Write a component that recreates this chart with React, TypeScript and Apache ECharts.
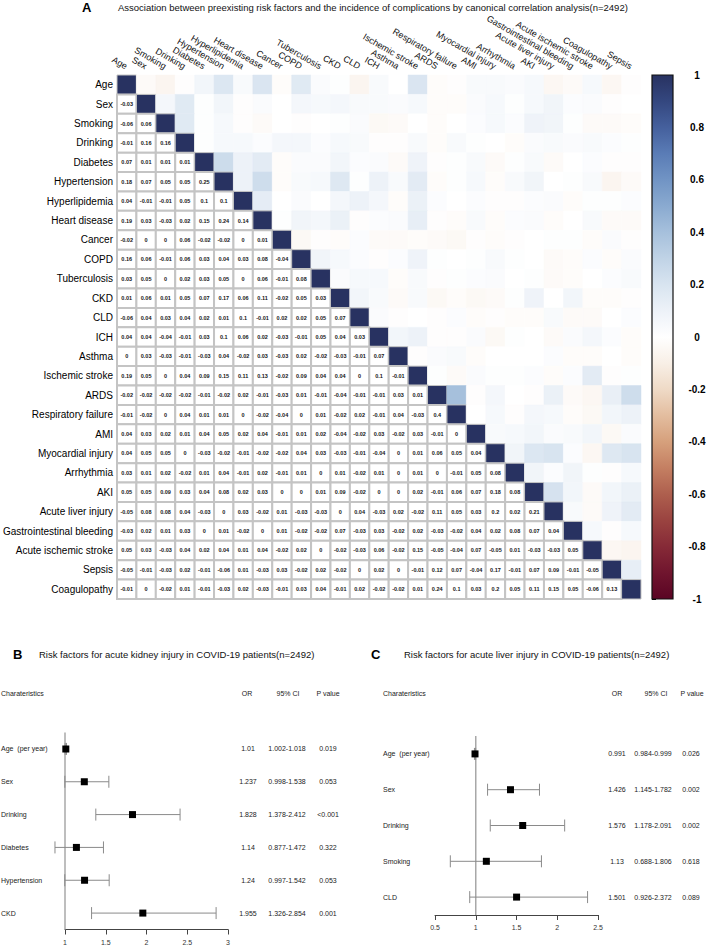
import React, { useEffect, useRef } from 'react';
import * as echarts from 'echarts';

const FONT = 'Liberation Sans, Arial, Helvetica, sans-serif';

// ---------- Panel A data ----------
const rowLabels = ['Age', 'Sex', 'Smoking', 'Drinking', 'Diabetes', 'Hypertension', 'Hyperlipidemia', 'Heart disease', 'Cancer', 'COPD', 'Tuberculosis', 'CKD', 'CLD', 'ICH', 'Asthma', 'Ischemic stroke', 'ARDS', 'Respiratory failure', 'AMI', 'Myocardial injury', 'Arrhythmia', 'AKI', 'Acute liver injury', 'Gastrointestinal bleeding', 'Acute ischemic stroke', 'Sepsis', 'Coagulopathy'];
const columnLabels = ['Age', 'Sex', 'Smoking', 'Drinking', 'Diabetes', 'Hypertension', 'Hyperlipidemia', 'Heart disease', 'Cancer', 'COPD', 'Tuberculosis', 'CKD', 'CLD', 'ICH', 'Asthma', 'Ischemic stroke', 'ARDS', 'Respiratory failure', 'AMI', 'Myocardial injury', 'Arrhythmia', 'AKI', 'Acute liver injury', 'Gastrointestinal bleeding', 'Acute ischemic stroke', 'Coagulopathy', 'Sepsis'];

// lower triangle correlations, row i has i values (columns 0..i-1)
const corrLower: number[][] = [
  [],
  [-0.03],
  [-0.06, 0.06],
  [-0.01, 0.16, 0.16],
  [0.07, 0.01, 0.01, 0.01],
  [0.18, 0.07, 0.05, 0.05, 0.25],
  [0.04, -0.01, -0.01, 0.05, 0.1, 0.1],
  [0.19, 0.03, -0.03, 0.02, 0.15, 0.24, 0.14],
  [-0.02, 0, 0, 0.06, -0.02, -0.02, 0, 0.01],
  [0.16, 0.06, -0.01, 0.06, 0.03, 0.04, 0.03, 0.08, -0.04],
  [0.03, 0.05, 0, 0.02, 0.03, 0.05, 0, 0.06, -0.01, 0.08],
  [0.01, 0.06, 0.01, 0.05, 0.07, 0.17, 0.06, 0.11, -0.02, 0.05, 0.03],
  [-0.06, 0.04, 0.03, 0.04, 0.02, 0.01, 0.1, -0.01, 0.02, 0.02, 0.05, 0.07],
  [0.04, 0.04, -0.04, -0.01, 0.03, 0.1, 0.06, 0.02, -0.03, -0.01, 0.05, 0.04, 0.03],
  [0, 0.03, -0.03, -0.01, -0.03, 0.04, -0.02, 0.03, -0.03, 0.02, -0.02, -0.03, -0.01, 0.07],
  [0.19, 0.05, 0, 0.04, 0.09, 0.15, 0.11, 0.13, -0.02, 0.09, 0.04, 0.04, 0, 0.1, -0.01],
  [-0.02, -0.02, -0.02, -0.02, -0.01, -0.02, 0.02, -0.01, -0.03, 0.01, -0.01, -0.04, -0.01, -0.01, 0.03, 0.01],
  [-0.01, -0.02, 0, 0.04, 0.01, 0.01, 0, -0.02, -0.04, 0, 0.01, -0.02, 0.02, -0.01, 0.04, -0.03, 0.4],
  [0.04, 0.03, 0.02, 0.01, 0.04, 0.05, 0.02, 0.04, -0.01, 0.01, 0.02, -0.04, -0.02, 0.03, -0.02, 0.03, -0.01, 0],
  [0.04, 0.05, 0.05, 0, -0.03, -0.02, -0.01, -0.02, -0.02, 0.04, 0.03, -0.03, -0.01, -0.04, 0, 0.01, 0.06, 0.05, 0.04],
  [0.03, 0.01, 0.02, -0.02, 0.01, 0.04, -0.01, 0.02, -0.01, 0.01, 0, 0.01, -0.02, 0.01, 0, 0.01, 0, -0.01, 0.05, 0.08],
  [0.05, 0.05, 0.09, 0.03, 0.04, 0.08, 0.02, 0.03, 0, 0, 0.01, 0.09, -0.02, 0, 0, 0.02, -0.01, 0.06, 0.07, 0.18, 0.08],
  [-0.05, 0.08, 0.08, 0.04, -0.03, 0, 0.03, -0.02, 0.01, -0.03, -0.03, 0, 0.04, -0.03, 0.02, -0.02, 0.11, 0.05, 0.03, 0.2, 0.02, 0.21],
  [-0.03, 0.02, 0.01, 0.03, 0, 0.01, -0.02, 0, 0.01, -0.02, -0.02, 0.07, -0.03, 0.03, -0.02, 0.02, -0.03, -0.02, 0.04, 0.02, 0.08, 0.07, 0.04],
  [0.05, 0.03, -0.03, 0.04, 0.02, 0.04, 0.01, 0.04, -0.02, 0.02, 0, -0.02, -0.03, 0.06, -0.02, 0.15, -0.05, -0.04, 0.07, -0.05, 0.01, -0.03, -0.03, 0.05],
  [-0.05, -0.01, -0.03, 0.02, -0.01, -0.06, 0.01, -0.03, 0.03, -0.02, 0.02, -0.02, 0, 0.02, 0, -0.01, 0.12, 0.07, -0.04, 0.17, -0.01, 0.07, 0.09, -0.01, -0.05],
  [-0.01, 0, -0.02, 0.01, -0.01, -0.03, 0.02, -0.03, -0.01, 0.03, 0.04, -0.01, 0.02, -0.02, -0.02, 0.01, 0.24, 0.1, 0.03, 0.2, 0.05, 0.11, 0.15, 0.05, -0.06, 0.13],
];
const colorbarTicks = [-1, -0.8, -0.6, -0.4, -0.2, 0, 0.2, 0.4, 0.6, 0.8, 1];

// ---------- Panel B data ----------
const akiFactors = ['Age  (per year)', 'Sex', 'Drinking', 'Diabetes', 'Hypertension', 'CKD'];
const akiOR = [1.01, 1.237, 1.828, 1.14, 1.24, 1.955];
const akiLow = [1.002, 0.998, 1.378, 0.877, 0.997, 1.326];
const akiHigh = [1.018, 1.538, 2.412, 1.472, 1.542, 2.854];
const akiP = ['0.019', '0.053', '<0.001', '0.322', '0.053', '0.001'];

// ---------- Panel C data ----------
const aliFactors = ['Age  (per year)', 'Sex', 'Drinking', 'Smoking', 'CLD'];
const aliOR = [0.991, 1.426, 1.576, 1.13, 1.501];
const aliLow = [0.984, 1.145, 1.178, 0.688, 0.926];
const aliHigh = [0.999, 1.782, 2.091, 1.806, 2.372];
const aliP = ['0.026', '0.002', '0.002', '0.618', '0.089'];

// ---------- colour scale ----------
const colorStops: [number, string][] = [
  [-1, '#5a0424'], [-0.9, '#70152e'], [-0.8, '#862a37'], [-0.7, '#9a4340'], [-0.6, '#ae5f4e'],
  [-0.5, '#c47f62'], [-0.4, '#d6a07c'], [-0.3, '#e3bd9f'], [-0.2, '#efdac6'], [-0.1, '#f8efe6'],
  [0, '#ffffff'], [0.1, '#edf2f8'], [0.2, '#d8e4f0'], [0.3, '#c0d3e6'], [0.4, '#a6c0dc'],
  [0.5, '#8aaad0'], [0.6, '#7194c4'], [0.7, '#5a7cb6'], [0.8, '#45609d'], [0.9, '#34477f'], [1, '#283261'],
];
function hexToRgb(h: string) {
  return [parseInt(h.slice(1, 3), 16), parseInt(h.slice(3, 5), 16), parseInt(h.slice(5, 7), 16)];
}
function colorFor(v: number) {
  for (let k = 0; k < colorStops.length - 1; k++) {
    const [a, ca] = colorStops[k];
    const [b, cb] = colorStops[k + 1];
    if (v >= a && v <= b) {
      const t = (v - a) / (b - a);
      const A = hexToRgb(ca), B = hexToRgb(cb);
      const c = A.map((x, i) => Math.round(x + (B[i] - x) * t));
      return `rgb(${c[0]},${c[1]},${c[2]})`;
    }
  }
  return v > 0 ? colorStops[colorStops.length - 1][1] : colorStops[0][1];
}

const matrixData: number[][] = [];
for (let i = 0; i < rowLabels.length; i++) {
  for (let j = 0; j < rowLabels.length; j++) {
    if (j < i) matrixData.push([j, i, corrLower[i][j], 0]);
    else if (j === i) matrixData.push([j, i, 1, 1]);
    else matrixData.push([j, i, corrLower[j][i], 2]);
  }
}

function txt(text: string, x: number, y: number, size: number, align = 'left', weight = 'normal', color = '#1a1a1a') {
  return {
    type: 'text', x, y,
    style: { text, fontSize: size, fontFamily: FONT, fontWeight: weight, fill: color, align, verticalAlign: 'middle', textAlign: align, textVerticalAlign: 'middle' },
  };
}

function forestSeries(axisIdx: number, ors: number[], lows: number[], highs: number[], ps: string[], cols: number[]) {
  return {
    type: 'custom', xAxisIndex: axisIdx, yAxisIndex: axisIdx, clip: false, silent: true,
    data: ors.map((o, i) => [o, i, lows[i], highs[i]]),
    renderItem: (params: any, api: any) => {
      const i = api.value(1);
      const c = api.coord([api.value(0), i]);
      const l = api.coord([api.value(2), i]);
      const h = api.coord([api.value(3), i]);
      const cs = params.coordSys;
      const children: any[] = [];
      if (params.dataIndex === 0) {
        const r = api.coord([1, i]);
        children.push({ type: 'line', shape: { x1: r[0], y1: cs.y, x2: r[0], y2: cs.y + cs.height }, style: { stroke: '#a8a8a8', lineWidth: 1.5 } });
      }
      const grey = { stroke: '#8a8a8a', lineWidth: 1 };
      children.push({ type: 'line', shape: { x1: l[0], y1: c[1], x2: h[0], y2: c[1] }, style: grey });
      children.push({ type: 'line', shape: { x1: l[0], y1: c[1] - 6, x2: l[0], y2: c[1] + 6 }, style: grey });
      children.push({ type: 'line', shape: { x1: h[0], y1: c[1] - 6, x2: h[0], y2: c[1] + 6 }, style: grey });
      children.push({ type: 'rect', shape: { x: c[0] - 3.5, y: c[1] - 3.5, width: 7, height: 7 }, style: { fill: '#000' } });
      const d = params.dataIndex;
      children.push(txt(String(ors[d]), cols[0], c[1], 7, 'center', 'normal', '#222'));
      children.push(txt(lows[d].toFixed(3) + '-' + highs[d].toFixed(3), cols[1], c[1], 7, 'center', 'normal', '#222'));
      children.push(txt(ps[d], cols[2], c[1], 7, 'center', 'normal', '#222'));
      return { type: 'group', children };
    },
  };
}

function buildOption() {
  const noAxis = { axisLine: { show: false }, axisTick: { show: false }, splitLine: { show: false } };
  const forestX = (gridIndex: number, min: number, max: number) => ({
    gridIndex, type: 'value', min, max, interval: 0.5,
    axisLine: { show: true, lineStyle: { color: '#444', width: 1 } },
    axisTick: { show: true, length: 5, lineStyle: { color: '#444', width: 1 } },
    axisLabel: { fontSize: 7, color: '#333', margin: 9, fontFamily: FONT },
    splitLine: { show: false },
  });
  const forestY = (gridIndex: number, data: string[], margin: number) => ({
    gridIndex, type: 'category', data, inverse: true, ...noAxis,
    axisLabel: { interval: 0, align: 'left', margin, fontSize: 7, color: '#222', fontFamily: FONT },
  });
  return {
    animation: false,
    backgroundColor: '#ffffff',
    textStyle: { fontFamily: FONT },
    grid: [
      { left: 117, top: 75, width: 524, height: 524, outerBoundsMode: 'none' },
      { left: 652, top: 75, width: 21, height: 524, outerBoundsMode: 'none' },
      { left: 65, top: 732.5, width: 163, height: 197, outerBoundsMode: 'none' },
      { left: 435, top: 736, width: 163, height: 179, outerBoundsMode: 'none' },
    ],
    xAxis: [
      {
        gridIndex: 0, type: 'category', data: columnLabels, position: 'top', ...noAxis,
        axisLabel: { interval: 0, rotate: 30, fontSize: 9, color: '#111', margin: 8, fontFamily: FONT },
      },
      { gridIndex: 1, type: 'value', min: 0, max: 1, show: false },
      forestX(2, 1, 3),
      forestX(3, 0.5, 2.5),
    ],
    yAxis: [
      {
        gridIndex: 0, type: 'category', data: rowLabels, inverse: true, ...noAxis,
        axisLabel: { interval: 0, fontSize: 10, color: '#000', margin: 4, fontFamily: FONT },
      },
      {
        gridIndex: 1, type: 'value', min: -1, max: 1, interval: 0.2, position: 'right',
        axisLine: { show: false }, splitLine: { show: false },
        axisTick: { show: true, length: 4, lineStyle: { color: '#000', width: 1 } },
        axisLabel: {
          fontSize: 10, fontWeight: 'bold', color: '#000', align: 'center', margin: 24, fontFamily: FONT,
          formatter: (v: number) => (colorbarTicks.some((t) => Math.abs(t - v) < 1e-6) ? String(Math.round(v * 10) / 10) : ''),
        },
      },
      forestY(2, akiFactors, 64),
      forestY(3, aliFactors, 52),
    ],
    series: [
      {
        type: 'custom', xAxisIndex: 0, yAxisIndex: 0, silent: true, data: matrixData,
        renderItem: (params: any, api: any) => {
          const j = api.value(0), i = api.value(1), v = api.value(2), kind = api.value(3);
          const c = api.coord([j, i]);
          const s = api.size([1, 1]);
          const x0 = c[0] - s[0] / 2, y0 = c[1] - s[1] / 2;
          if (kind === 0) {
            return {
              type: 'group', children: [
                { type: 'rect', shape: { x: x0, y: y0, width: s[0], height: s[1] }, style: { fill: '#ffffff', stroke: '#c4c4c4', lineWidth: 2 } },
                txt(String(v), c[0], c[1], 5.5, 'center', 'bold', '#151515'),
              ],
            };
          }
          if (kind === 1) {
            return { type: 'rect', shape: { x: x0, y: y0, width: s[0], height: s[1] }, style: { fill: colorFor(1), stroke: '#c4c4c4', lineWidth: 1 } };
          }
          const col = colorFor(v);
          return { type: 'rect', shape: { x: x0, y: y0, width: s[0], height: s[1] }, style: { fill: col, stroke: col, lineWidth: 0.5 } };
        },
      },
      {
        type: 'custom', xAxisIndex: 1, yAxisIndex: 1, silent: true, data: [[0, 1]],
        renderItem: (params: any, api: any) => {
          const p1 = api.coord([0, 1]);
          const p2 = api.coord([1, -1]);
          const stops = colorStops.map(([v, c]) => ({ offset: (1 - v) / 2, color: c })).sort((a, b) => a.offset - b.offset);
          return {
            type: 'rect', shape: { x: p1[0], y: p1[1], width: p2[0] - p1[0], height: p2[1] - p1[1] },
            style: { fill: new echarts.graphic.LinearGradient(0, 0, 0, 1, stops), stroke: '#111', lineWidth: 1.2 },
          };
        },
      },
      forestSeries(2, akiOR, akiLow, akiHigh, akiP, [248, 287, 328]),
      forestSeries(3, aliOR, aliLow, aliHigh, aliP, [617, 653, 691]),
    ],
    graphic: [
      txt('A', 82, 7, 13, 'left', 'bold', '#000'),
      txt('Association between preexisting risk factors and the incidence of complications by canonical correlation analysis(n=2492)', 118, 7, 9.5, 'left', 'normal', '#111'),
      txt('B', 13, 654, 13, 'left', 'bold', '#000'),
      txt('Risk factors for acute kidney injury in COVID-19 patients(n=2492)', 39, 654, 9.5, 'left', 'normal', '#111'),
      txt('Charateristics', 1, 693, 7, 'left', 'normal', '#222'),
      txt('OR', 247, 693, 7, 'center', 'normal', '#222'),
      txt('95% CI', 288, 693, 7, 'center', 'normal', '#222'),
      txt('P value', 328, 693, 7, 'center', 'normal', '#222'),
      txt('C', 371, 654, 13, 'left', 'bold', '#000'),
      txt('Risk factors for acute liver injury in COVID-19 patients(n=2492)', 404, 654, 9.5, 'left', 'normal', '#111'),
      txt('Charateristics', 383, 693, 7, 'left', 'normal', '#222'),
      txt('OR', 617, 693, 7, 'center', 'normal', '#222'),
      txt('95% CI', 656, 693, 7, 'center', 'normal', '#222'),
      txt('P value', 692, 693, 7, 'center', 'normal', '#222'),
    ],
  };
}

export default function App() {
  const ref = useRef<HTMLDivElement>(null);
  useEffect(() => {
    const chart = echarts.init(ref.current as HTMLDivElement, null, { renderer: 'svg' });
    chart.setOption(buildOption() as any);
    return () => chart.dispose();
  }, []);
  return <div ref={ref} style={{ position: 'fixed', left: 0, top: 0, width: 708, height: 948, background: '#fff' }} />;
}
